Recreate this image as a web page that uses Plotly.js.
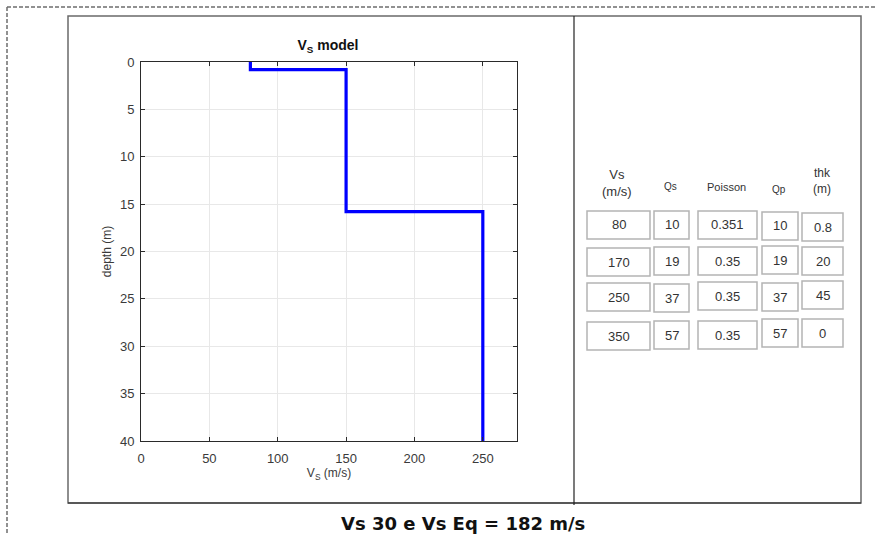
<!DOCTYPE html>
<html><head><meta charset="utf-8">
<script src="https://cdn.plot.ly/plotly-3.0.1.min.js"></script>
<style>html,body{margin:0;padding:0;background:#fff}#c{width:875px;height:535px}</style>
</head><body><div id="c"></div>
<script>
// Vs profile (step model)
const profileVs = [80, 80, 150, 150, 250, 250];
const profileDepth = [0, 0.8, 0.8, 15.8, 15.8, 40];
const xTicks = [0, 50, 100, 150, 200, 250];
const yTicks = [0, 5, 10, 15, 20, 25, 30, 35, 40];

// table contents
const headers = ['Vs<br>(m/s)', 'Qs', 'Poisson', 'Qp', 'thk<br>(m)'];
const colVs = ['80', '170', '250', '350'];
const colQs = ['10', '19', '37', '57'];
const colPoisson = ['0.351', '0.35', '0.35', '0.35'];
const colQp = ['10', '19', '37', '57'];
const colThk = ['0.8', '20', '45', '0'];
const summaryText = 'Vs 30 e Vs Eq = 182 m/s';

const W = 875, H = 535;
const px = x => x / W, py = y => 1 - y / H;

// table geometry (pixels)
const colX = [[587, 650], [654, 689], [698, 757], [762, 798], [802, 843]];
const colRowTops = [[211, 248, 283, 322], [211, 247, 284, 321], [211, 247, 282, 321], [212, 246, 283, 319], [213, 247, 281, 319]];
const cellH = 28;
const headerPos = [[617, 183], [670, 187], [726, 187], [779, 189], [822, 181]];
const headerSize = [13, 10, 11, 10, 12];

const columns = [colVs, colQs, colPoisson, colQp, colThk];

const shapes = [];
const annotations = [];

// dashed outer frame
shapes.push({type: 'line', xref: 'paper', yref: 'paper', x0: px(7), x1: px(875), y0: py(7), y1: py(7), line: {color: '#6e6e6e', width: 1.5, dash: '4px,2px'}});
shapes.push({type: 'line', xref: 'paper', yref: 'paper', x0: px(7), x1: px(7), y0: py(7), y1: py(535), line: {color: '#6e6e6e', width: 1.5, dash: '4px,2px'}});
// inner panel
shapes.push({type: 'rect', xref: 'paper', yref: 'paper', x0: px(68), x1: px(861), y0: py(503), y1: py(16), line: {color: '#6a6a6a', width: 1.5}});
shapes.push({type: 'line', xref: 'paper', yref: 'paper', x0: px(68), x1: px(861), y0: py(503), y1: py(503), line: {color: '#222', width: 1.2}});
shapes.push({type: 'line', xref: 'paper', yref: 'paper', x0: px(574), x1: px(574), y0: py(16), y1: py(505), line: {color: '#222', width: 1.2}});

columns.forEach((col, ci) => {
  const [xa, xb] = colX[ci];
  annotations.push({xref: 'paper', yref: 'paper', x: px(headerPos[ci][0]), y: py(headerPos[ci][1]), text: headers[ci], showarrow: false, xanchor: 'center', yanchor: 'middle', font: {family: 'Liberation Sans, Arial', size: headerSize[ci], color: '#333'}});
  col.forEach((v, ri) => {
    const top = colRowTops[ci][ri];
    shapes.push({type: 'rect', xref: 'paper', yref: 'paper', x0: px(xa), x1: px(xb), y0: py(top + cellH), y1: py(top), line: {color: '#b4b4b4', width: 1.5}});
    annotations.push({xref: 'paper', yref: 'paper', x: px((xa + xb) / 2), y: py(top + cellH / 2), text: v, showarrow: false, xanchor: 'center', yanchor: 'middle', font: {family: 'Liberation Sans, Arial', size: 13, color: '#333'}});
  });
});

annotations.push({xref: 'paper', yref: 'paper', x: px(463), y: py(523), text: '<b>' + summaryText + '</b>', showarrow: false, xanchor: 'center', yanchor: 'middle', font: {family: 'DejaVu Sans', size: 18, color: '#111'}});

const trace = {x: profileVs, y: profileDepth, type: 'scatter', mode: 'lines', line: {color: '#0000ff', width: 3.2}, hoverinfo: 'skip'};

const axisCommon = {showline: true, mirror: 'ticks', linecolor: '#2a2a2a', linewidth: 1, ticks: 'inside', ticklen: 4, tickcolor: '#2a2a2a', showgrid: true, gridcolor: '#e8e8e8', gridwidth: 1, zeroline: false, tickfont: {family: 'Liberation Sans, Arial', size: 13, color: '#3a3a3a'}};

const layout = {
  width: W, height: H, margin: {l: 0, r: 0, t: 0, b: 0}, paper_bgcolor: '#fff', plot_bgcolor: '#fff', showlegend: false,
  title: {text: '<b>V<sub>S</sub> model</b>', x: px(328), xanchor: 'center', y: py(45), yanchor: 'middle', font: {family: 'Liberation Sans, Arial', size: 14, color: '#111'}},
  xaxis: Object.assign({}, axisCommon, {domain: [px(141), px(517)], range: [0, 275], tickvals: xTicks, ticktext: xTicks.map(String), ticklabelstandoff: 5,
    title: {text: 'V<sub>S</sub> (m/s)', standoff: 4, font: {family: 'Liberation Sans, Arial', size: 12, color: '#3a3a3a'}}}),
  yaxis: Object.assign({}, axisCommon, {domain: [py(441), py(62)], range: [40, 0], tickvals: yTicks, ticktext: yTicks.map(String), ticklabelstandoff: 3,
    title: {text: 'depth (m)', standoff: 5, font: {family: 'Liberation Sans, Arial', size: 12, color: '#3a3a3a'}}}),
  shapes: shapes, annotations: annotations
};

Plotly.newPlot('c', [trace], layout, {staticPlot: true, displayModeBar: false});
</script></body></html>
